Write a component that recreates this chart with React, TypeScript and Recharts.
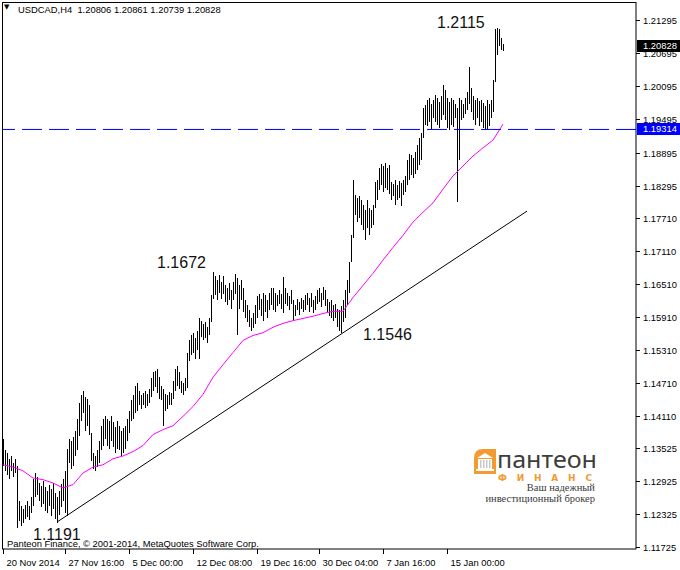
import React from 'react';
import { ComposedChart, Bar, Line, XAxis, YAxis, ReferenceLine, ReferenceDot } from 'recharts';

// USDCAD H4, bar highs / lows (one value per 4h bar)
const highs = [
  1.1369, 1.1348, 1.1344, 1.1333, 1.1338, 1.1326, 1.1333, 1.1320, 1.1256, 1.1247,
  1.1242, 1.1249, 1.1256, 1.1247, 1.1264, 1.1297, 1.1307, 1.1300, 1.1289, 1.1284,
  1.1293, 1.1282, 1.1275, 1.1286, 1.1278, 1.1289, 1.1271, 1.1264, 1.1275, 1.1287,
  1.1297, 1.1311, 1.1351, 1.1369, 1.1366, 1.1373, 1.1384, 1.1406, 1.1435, 1.1448,
  1.1457, 1.1446, 1.1442, 1.1430, 1.1380, 1.1344, 1.1338, 1.1348, 1.1366, 1.1393,
  1.1406, 1.1411, 1.1406, 1.1402, 1.1410, 1.1399, 1.1391, 1.1402, 1.1393, 1.1384,
  1.1388, 1.1393, 1.1406, 1.1420, 1.1439, 1.1448, 1.1466, 1.1470, 1.1457, 1.1448,
  1.1453, 1.1457, 1.1451, 1.1460, 1.1479, 1.1490, 1.1493, 1.1497, 1.1482, 1.1466,
  1.1460, 1.1451, 1.1448, 1.1455, 1.1453, 1.1475, 1.1497, 1.1501, 1.1490, 1.1475,
  1.1470, 1.1479, 1.1526, 1.1548, 1.1557, 1.1561, 1.1552, 1.1566, 1.1588, 1.1584,
  1.1577, 1.1581, 1.1573, 1.1588, 1.1630, 1.1672, 1.1665, 1.1657, 1.1666, 1.1654,
  1.1665, 1.1648, 1.1643, 1.1652, 1.1639, 1.1654, 1.1668, 1.1661, 1.1648, 1.1657,
  1.1643, 1.1621, 1.1612, 1.1603, 1.1588, 1.1597, 1.1612, 1.1628, 1.1632, 1.1624,
  1.1635, 1.1630, 1.1621, 1.1634, 1.1644, 1.1643, 1.1635, 1.1630, 1.1639, 1.1632,
  1.1663, 1.1643, 1.1635, 1.1628, 1.1639, 1.1621, 1.1612, 1.1624, 1.1617, 1.1626,
  1.1621, 1.1630, 1.1635, 1.1626, 1.1634, 1.1621, 1.1628, 1.1639, 1.1644, 1.1635,
  1.1646, 1.1639, 1.1624, 1.1617, 1.1621, 1.1612, 1.1615, 1.1606, 1.1603, 1.1610,
  1.1621, 1.1639, 1.1657, 1.1690, 1.1739, 1.1839, 1.1812, 1.1807, 1.1810, 1.1803,
  1.1794, 1.1785, 1.1803, 1.1788, 1.1785, 1.1794, 1.1836, 1.1839, 1.1861, 1.1869,
  1.1865, 1.1870, 1.1861, 1.1867, 1.1836, 1.1832, 1.1839, 1.1830, 1.1838, 1.1834,
  1.1839, 1.1847, 1.1876, 1.1887, 1.1885, 1.1879, 1.1890, 1.1903, 1.1916, 1.1925,
  1.1971, 1.1976, 1.1985, 1.1989, 1.1978, 1.1985, 1.1994, 1.1989, 1.1981, 1.1992,
  1.2012, 1.2003, 1.1989, 1.1981, 1.1989, 1.1985, 1.1978, 1.1971, 1.1989, 1.1985,
  1.1978, 1.1989, 1.2000, 1.2045, 1.2007, 1.1992, 1.1985, 1.1989, 1.1983, 1.1985,
  1.1980, 1.1974, 1.1985, 1.1978, 1.1985, 1.2022, 1.2114, 1.2115, 1.2114, 1.2098,
  1.2086,
];

const lows = [
  1.1320, 1.1311, 1.1304, 1.1297, 1.1311, 1.1300, 1.1307, 1.1207, 1.1220, 1.1211,
  1.1216, 1.1224, 1.1227, 1.1222, 1.1235, 1.1247, 1.1264, 1.1267, 1.1256, 1.1246,
  1.1251, 1.1238, 1.1235, 1.1247, 1.1229, 1.1242, 1.1224, 1.1216, 1.1231, 1.1246,
  1.1256, 1.1235, 1.1229, 1.1326, 1.1315, 1.1320, 1.1338, 1.1348, 1.1375, 1.1402,
  1.1417, 1.1384, 1.1393, 1.1377, 1.1329, 1.1315, 1.1311, 1.1318, 1.1326, 1.1348,
  1.1357, 1.1369, 1.1357, 1.1351, 1.1366, 1.1355, 1.1344, 1.1351, 1.1348, 1.1338,
  1.1344, 1.1351, 1.1366, 1.1380, 1.1402, 1.1406, 1.1417, 1.1420, 1.1430, 1.1424,
  1.1430, 1.1426, 1.1428, 1.1435, 1.1446, 1.1457, 1.1464, 1.1453, 1.1442, 1.1439,
  1.1393, 1.1420, 1.1424, 1.1430, 1.1431, 1.1442, 1.1457, 1.1466, 1.1460, 1.1453,
  1.1448, 1.1457, 1.1462, 1.1511, 1.1521, 1.1526, 1.1515, 1.1530, 1.1515, 1.1555,
  1.1548, 1.1552, 1.1544, 1.1557, 1.1581, 1.1624, 1.1630, 1.1621, 1.1635, 1.1624,
  1.1632, 1.1617, 1.1612, 1.1621, 1.1606, 1.1621, 1.1632, 1.1557, 1.1606, 1.1621,
  1.1599, 1.1588, 1.1581, 1.1573, 1.1566, 1.1570, 1.1577, 1.1588, 1.1603, 1.1592,
  1.1584, 1.1599, 1.1588, 1.1603, 1.1612, 1.1603, 1.1599, 1.1610, 1.1614, 1.1606,
  1.1597, 1.1614, 1.1610, 1.1603, 1.1615, 1.1584, 1.1592, 1.1603, 1.1595, 1.1606,
  1.1599, 1.1603, 1.1612, 1.1599, 1.1608, 1.1597, 1.1603, 1.1614, 1.1617, 1.1608,
  1.1621, 1.1610, 1.1599, 1.1593, 1.1588, 1.1584, 1.1588, 1.1573, 1.1566, 1.1562,
  1.1581, 1.1588, 1.1612, 1.1635, 1.1690, 1.1734, 1.1776, 1.1763, 1.1770, 1.1757,
  1.1748, 1.1730, 1.1752, 1.1739, 1.1752, 1.1757, 1.1788, 1.1803, 1.1821, 1.1830,
  1.1817, 1.1825, 1.1821, 1.1814, 1.1803, 1.1810, 1.1794, 1.1803, 1.1807, 1.1792,
  1.1812, 1.1817, 1.1830, 1.1839, 1.1849, 1.1843, 1.1850, 1.1858, 1.1867, 1.1876,
  1.1916, 1.1940, 1.1938, 1.1945, 1.1930, 1.1952, 1.1945, 1.1940, 1.1934, 1.1949,
  1.1958, 1.1949, 1.1934, 1.1930, 1.1940, 1.1936, 1.1952, 1.1799, 1.1876, 1.1949,
  1.1952, 1.1960, 1.1967, 1.1978, 1.1963, 1.1949, 1.1940, 1.1952, 1.1938, 1.1945,
  1.1934, 1.1930, 1.1932, 1.1938, 1.1952, 1.1963, 1.2018, 1.2067, 1.2083, 1.2076,
  1.2074,
];

// moving average (magenta), read every 5th bar
const maIndex = [
  0, 5, 10, 15, 20, 25, 30, 35, 40, 45, 50, 55, 60, 65, 70, 75, 80, 85, 90, 95,
  100, 105, 110, 115, 120, 125, 130, 135, 140, 145, 150, 155, 160, 165, 170, 175,
  180, 185, 190, 195, 200, 205, 210, 215, 220, 225, 230, 235, 240, 245, 250,
];
const maValues = [
  1.1322, 1.1318, 1.1311, 1.1298, 1.1295, 1.1289, 1.1280, 1.1286, 1.1307, 1.1318,
  1.1322, 1.1333, 1.1338, 1.1346, 1.1357, 1.1377, 1.1386, 1.1393, 1.1410, 1.1428,
  1.1450, 1.1481, 1.1504, 1.1526, 1.1548, 1.1557, 1.1562, 1.1572, 1.1579, 1.1584,
  1.1588, 1.1592, 1.1597, 1.1601, 1.1601, 1.1626, 1.1648, 1.1670, 1.1694, 1.1717,
  1.1739, 1.1763, 1.1781, 1.1798, 1.1823, 1.1847, 1.1865, 1.1883, 1.1898, 1.1912,
  1.1941,
];

// support trend line, two anchor points (bar index, price)
const trendIndex = [27, 262];
const trendValues = [1.1218, 1.1783];

const levelPrice = 1.19314;
const lastBar = { open: 1.20806, high: 1.20861, low: 1.20739, close: 1.20828 };

const priceTicks = [
  1.21295, 1.20695, 1.20095, 1.19495, 1.18895, 1.18295, 1.1771, 1.1711, 1.1651,
  1.1591, 1.1531, 1.1471, 1.1411, 1.13525, 1.12925, 1.12325, 1.11725,
];
const timeTickIndex = [0, 31, 63, 95, 127, 158, 190, 222];
const timeTickLabels = [
  '20 Nov 2014', '27 Nov 16:00', '5 Dec 00:00', '12 Dec 08:00',
  '19 Dec 16:00', '30 Dec 04:00', '7 Jan 16:00', '15 Jan 00:00',
];

// price text objects on the chart
const noteLabels = ['1.2115', '1.1672', '1.1546', '1.1191'];
const noteValues = [1.2115, 1.1672, 1.1546, 1.1191];
const noteIndex = [217, 77, 180, 15];
const noteShift = [0, -4, -2, 3]; // baseline nudge in px

const SLOTS = 317; // 2px per bar over the plot width, right side left empty
const W = 680;
const H = 570;
const PLOT_RIGHT = 636;
const PLOT_BOTTOM = 549;
const FONT = "'Liberation Sans', Arial, sans-serif";
const FS = 9.4;

type Row = { i: number; range: number[] | null; ma: number | null; trend: number | null };

const data: Row[] = [];
for (let i = 0; i < SLOTS; i++) {
  data.push({
    i,
    range: i < highs.length ? [lows[i], highs[i]] : null,
    ma: null,
    trend: null,
  });
}
maIndex.forEach((idx, k) => { data[idx].ma = maValues[k]; });
trendIndex.forEach((idx, k) => { data[idx].trend = trendValues[k]; });

const HiLo = (props: any) => {
  const { x, y, width, height } = props;
  if (x == null || y == null || height == null || isNaN(y) || isNaN(height)) return <g />;
  const cx = Math.floor(x + width / 2 + 0.01);
  const top = Math.round(Math.min(y, y + height));
  const bot = Math.round(Math.max(y, y + height));
  return <rect x={cx} y={top} width={1} height={Math.max(1, bot - top)} fill="#000" />;
};

const PriceTick = (props: any) => {
  const { y, payload } = props;
  const py = Math.round(y) + 0.5;
  return (
    <g>
      <line x1={PLOT_RIGHT} x2={PLOT_RIGHT + 4} y1={py} y2={py} stroke="#000" />
      <text x={PLOT_RIGHT + 7} y={py} dy="0.35em" fontSize={FS} fontFamily={FONT} fill="#000">
        {Number(payload.value).toFixed(5)}
      </text>
    </g>
  );
};

const TimeTick = (props: any) => {
  const { x, payload } = props;
  const k = timeTickIndex.indexOf(Number(payload.value));
  if (k < 0) return <g />;
  const px = Math.floor(x) + 0.5;
  return (
    <g>
      <line x1={px} x2={px} y1={PLOT_BOTTOM} y2={PLOT_BOTTOM + 5} stroke="#000" />
      <text x={px + 3} y={PLOT_BOTTOM + 17} fontSize={FS} fontFamily={FONT} fill="#000">
        {timeTickLabels[k]}
      </text>
    </g>
  );
};

const PriceBox = (props: any) => {
  const { viewBox, bg, text } = props;
  if (!viewBox) return null;
  const y = Math.round(viewBox.y);
  return (
    <g>
      <rect x={PLOT_RIGHT + 1} y={y - 6} width={W - PLOT_RIGHT - 1} height={12} fill={bg} />
      <text x={PLOT_RIGHT + 7} y={y} dy="0.35em" fontSize={FS} fontFamily={FONT} fill="#fff">
        {text}
      </text>
    </g>
  );
};

const NoteText = (props: any) => {
  const { viewBox, text, shift } = props;
  if (!viewBox) return null;
  return (
    <text x={viewBox.x} y={viewBox.y + shift} fontSize={16} fontFamily={FONT} fill="#111">
      {text}
    </text>
  );
};

const Logo = () => (
  <svg width={W} height={H} style={{ position: 'absolute', left: 0, top: 0, pointerEvents: 'none' }}>
    <path d="M474 474 V458 Q474 449 483 449 H496 V474 Z" fill="#f29b30" />
    <polygon points="477,458 485,453 493,458" fill="#fff" />
    <rect x={478} y={459} width={14} height={10} fill="#fff" />
    {[480, 483, 486, 489].map((cx) => (
      <rect key={cx} x={cx} y={460} width={1.5} height={8} fill="#c9c9c9" />
    ))}
    <rect x={476} y={469} width={18} height={2} fill="#fff" />
    <text x={497} y={468} fontSize={24} fontFamily="'Noto Sans', sans-serif" fill="#3d3d3d"
      textLength={100} lengthAdjust="spacingAndGlyphs">пантеон</text>
    <text x={498} y={481} fontSize={9} fontWeight="bold" fontFamily="'DejaVu Sans', sans-serif"
      fill="#f29b30" textLength={94} lengthAdjust="spacing">ФИНАНС</text>
    <text x={595} y={491} textAnchor="end" fontSize={10.5} fontFamily="'Liberation Serif', serif" fill="#3a3a3a">
      Ваш надежный
    </text>
    <text x={595} y={502} textAnchor="end" fontSize={10.5} fontFamily="'Liberation Serif', serif" fill="#3a3a3a">
      инвестиционный брокер
    </text>
  </svg>
);

export default function App() {
  return (
    <div style={{ position: 'absolute', left: 0, top: 0, width: W, height: H, background: '#fff', overflow: 'hidden' }}>
      <ComposedChart width={W} height={H} data={data} margin={{ top: 2, right: 0, bottom: 0, left: 2 }}>
        <XAxis
          dataKey="i"
          type="category"
          interval={0}
          height={H - PLOT_BOTTOM}
          tickLine={false}
          axisLine={{ stroke: '#000' }}
          tick={(p: any) => <TimeTick {...p} />}
        />
        <YAxis
          orientation="right"
          type="number"
          domain={[1.1169, 1.2163]}
          allowDataOverflow
          ticks={priceTicks}
          interval={0}
          width={W - PLOT_RIGHT}
          tickLine={false}
          axisLine={{ stroke: '#000' }}
          tick={(p: any) => <PriceTick {...p} />}
        />
        <Bar dataKey="range" shape={(p: any) => <HiLo {...p} />} isAnimationActive={false} />
        <Line dataKey="ma" stroke="#ff00ff" strokeWidth={1} dot={false} connectNulls isAnimationActive={false} />
        <Line dataKey="trend" stroke="#000" strokeWidth={1} dot={false} connectNulls isAnimationActive={false} />
        <ReferenceLine y={levelPrice} stroke="#0000ff" strokeDasharray="20 7"
          label={<PriceBox bg="#0000ff" text={levelPrice.toFixed(5)} />} />
        <ReferenceLine y={lastBar.close} stroke="none"
          label={<PriceBox bg="#000" text={lastBar.close.toFixed(5)} />} />
        {noteLabels.map((t, k) => (
          <ReferenceDot key={t} x={noteIndex[k]} y={noteValues[k]} r={0} fill="none" stroke="none"
            label={<NoteText text={t} shift={noteShift[k]} />} />
        ))}
      </ComposedChart>
      <div style={{ position: 'absolute', left: 2, top: 2, width: PLOT_RIGHT - 2, height: PLOT_BOTTOM - 2,
        borderLeft: '1px solid #000', borderTop: '1px solid #000', boxSizing: 'border-box', pointerEvents: 'none' }} />
      <div style={{ position: 'absolute', left: 4, top: 3, fontSize: 7, fontFamily: "'DejaVu Sans', sans-serif" }}>▼</div>
      <div style={{ position: 'absolute', left: 18, top: 4, fontSize: FS, fontFamily: FONT, whiteSpace: 'pre' }}>
        {`USDCAD,H4  ${lastBar.open.toFixed(5)} ${lastBar.high.toFixed(5)} ${lastBar.low.toFixed(5)} ${lastBar.close.toFixed(5)}`}
      </div>
      <div style={{ position: 'absolute', left: 7, top: 538, fontSize: FS, fontFamily: FONT, whiteSpace: 'pre' }}>
        Panteon Finance, © 2001-2014, MetaQuotes Software Corp.
      </div>
      <Logo />
    </div>
  );
}
